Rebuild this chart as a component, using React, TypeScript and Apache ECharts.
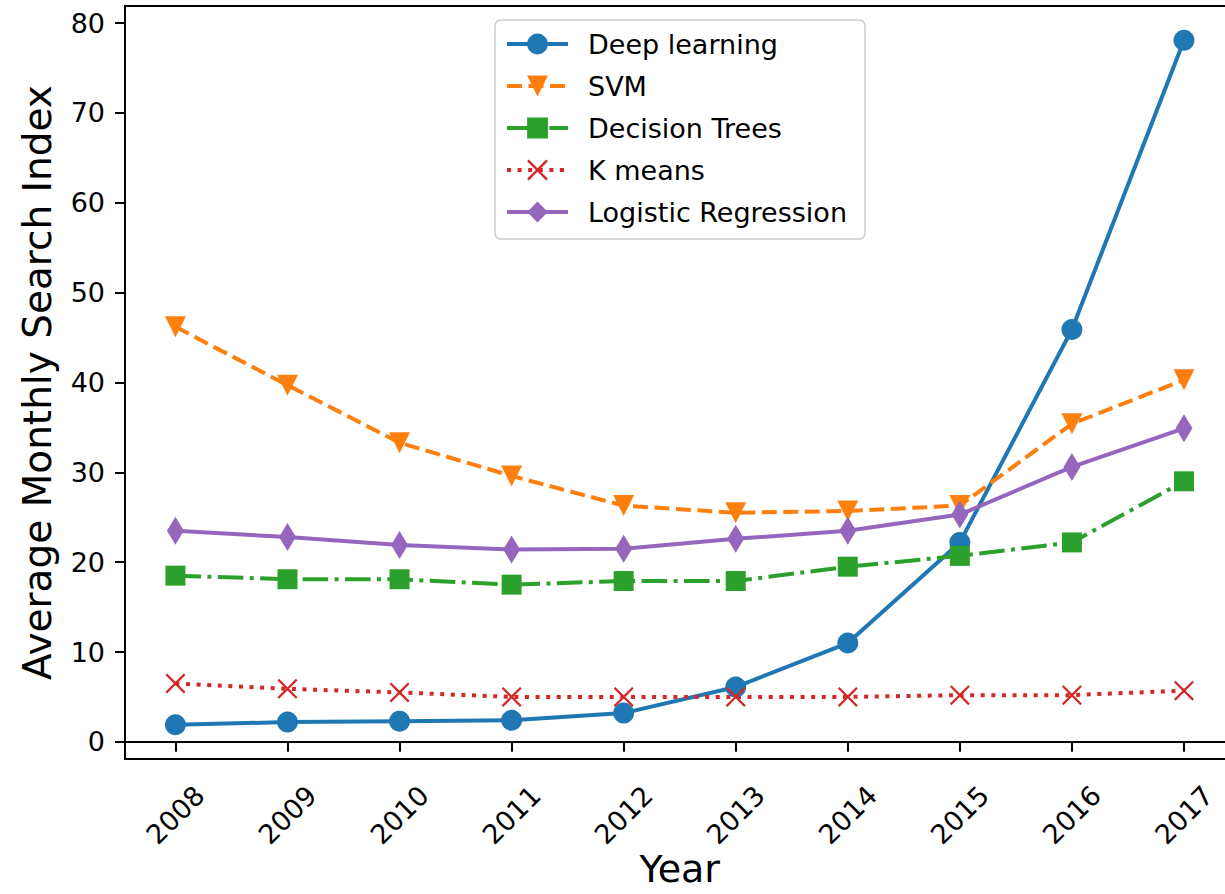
import React, { useEffect, useRef } from "react";
import * as echarts from "echarts";

const years = [2008, 2009, 2010, 2011, 2012, 2013, 2014, 2015, 2016, 2017];
const yTicks = [0, 10, 20, 30, 40, 50, 60, 70, 80];

const deepLearning = [1.9, 2.2, 2.3, 2.4, 3.2, 6.1, 11.0, 22.2, 45.9, 78.1];
const svm = [46.2, 39.7, 33.3, 29.6, 26.3, 25.5, 25.7, 26.3, 35.4, 40.3];
const decisionTrees = [18.5, 18.1, 18.1, 17.5, 17.9, 17.9, 19.5, 20.7, 22.2, 29.0];
const kMeans = [6.5, 5.9, 5.5, 5.0, 5.0, 5.0, 5.0, 5.2, 5.2, 5.7];
const logisticRegression = [23.5, 22.8, 21.9, 21.4, 21.5, 22.6, 23.5, 25.3, 30.6, 34.9];

const FONT = "DejaVu Sans";
const LW = 4;

const X_PATH =
  "path://M0,8 L8,0 L50,42 L92,0 L100,8 L58,50 L100,92 L92,100 L50,58 L8,100 L0,92 L42,50 Z";
const THIN_DIAMOND = "path://M50,0 L100,50 L50,100 L0,50 Z";

function pairs(vals: number[]) {
  return years.map((y, i) => [y, vals[i]]);
}

export default function App() {
  const ref = useRef<HTMLDivElement>(null);
  useEffect(() => {
    if (!ref.current) return;
    const chart = echarts.init(ref.current, undefined, { renderer: "svg" });
    const mk = (
      name: string,
      vals: number[],
      color: string,
      dash: any,
      symbol: string,
      symbolSize: any,
      symbolRotate = 0
    ) => ({
      name,
      type: "line",
      data: pairs(vals),
      symbol,
      symbolSize,
      symbolRotate,
      showAllSymbol: true,
      lineStyle: { color, width: LW, type: dash, cap: "butt" },
      itemStyle: { color, borderWidth: 0 },
      emphasis: { disabled: true },
    });
    chart.setOption({
      animation: false,
      textStyle: { fontFamily: FONT },
      grid: {
        left: 125,
        right: 5.6,
        top: 6,
        bottom: 135,
        containLabel: false,
        outerBoundsMode: "none",
        show: true,
        borderColor: "#000",
        borderWidth: 2,
        backgroundColor: "transparent",
      },
      legend: {
        orient: "vertical",
        left: 495,
        top: 20,
        padding: [9, 18, 12, 10],
        itemWidth: 61,
        itemHeight: 26,
        itemGap: 12,
        backgroundColor: "#fff",
        borderColor: "#cccccc",
        borderWidth: 1.5,
        borderRadius: 6,
        lineStyle: { width: 4 },
        textStyle: {
          fontFamily: FONT,
          fontSize: 27,
          color: "#000",
          lineHeight: 30,
          padding: [0, 0, 0, 15],
        },
        data: ["Deep learning", "SVM", "Decision Trees", "K means", "Logistic Regression"],
      },
      xAxis: {
        type: "value",
        min: 2007.55,
        max: 2017.45,
        name: "Year",
        nameLocation: "middle",
        nameGap: 90,
        nameMoveOverlap: false,
        nameTextStyle: { fontFamily: FONT, fontSize: 38, lineHeight: 40, color: "#000" },
        axisLine: { show: true, lineStyle: { color: "#000", width: 2 } },
        axisTick: {
          show: true,
          length: 10,
          lineStyle: { color: "#000", width: 2 },
          customValues: years,
        },
        axisLabel: {
          customValues: years,
          rotate: 45,
          align: "center",
          verticalAlign: "middle",
          margin: 56,
          fontFamily: FONT,
          fontSize: 27,
          color: "#000",
          formatter: (v: number) => String(v),
        },
        splitLine: { show: false },
      },
      yAxis: {
        type: "value",
        min: -1.91,
        max: 81.91,
        name: "Average Monthly Search Index",
        nameLocation: "middle",
        nameRotate: 90,
        nameGap: 68,
        nameMoveOverlap: false,
        nameTextStyle: { fontFamily: FONT, fontSize: 39, color: "#000" },
        axisLine: { show: true, lineStyle: { color: "#000", width: 2 } },
        axisTick: {
          show: true,
          length: 10,
          lineStyle: { color: "#000", width: 2 },
          customValues: yTicks,
        },
        axisLabel: {
          customValues: yTicks,
          margin: 20,
          fontFamily: FONT,
          fontSize: 27,
          color: "#000",
          formatter: (v: number) => String(v),
        },
        splitLine: { show: false },
      },
      series: [
        mk("Deep learning", deepLearning, "#1f77b4", "solid", "circle", 21),
        mk("SVM", svm, "#ff7f0e", [15, 6.5], "triangle", 21, 180),
        mk("Decision Trees", decisionTrees, "#2ca02c", [25.6, 6.4, 4, 6.4], "rect", 20),
        mk("K means", kMeans, "#d62728", [4, 6.6], X_PATH, 20),
        mk("Logistic Regression", logisticRegression, "#9467bd", "solid", THIN_DIAMOND, [17, 28]),
      ],
    });
    return () => chart.dispose();
  }, []);
  return (
    <div
      style={{
        position: "absolute",
        left: 0,
        top: 0,
        width: 1225,
        height: 894,
        overflow: "hidden",
        background: "#fff",
      }}
    >
      <div ref={ref} style={{ width: 1240, height: 894 }} />
    </div>
  );
}
